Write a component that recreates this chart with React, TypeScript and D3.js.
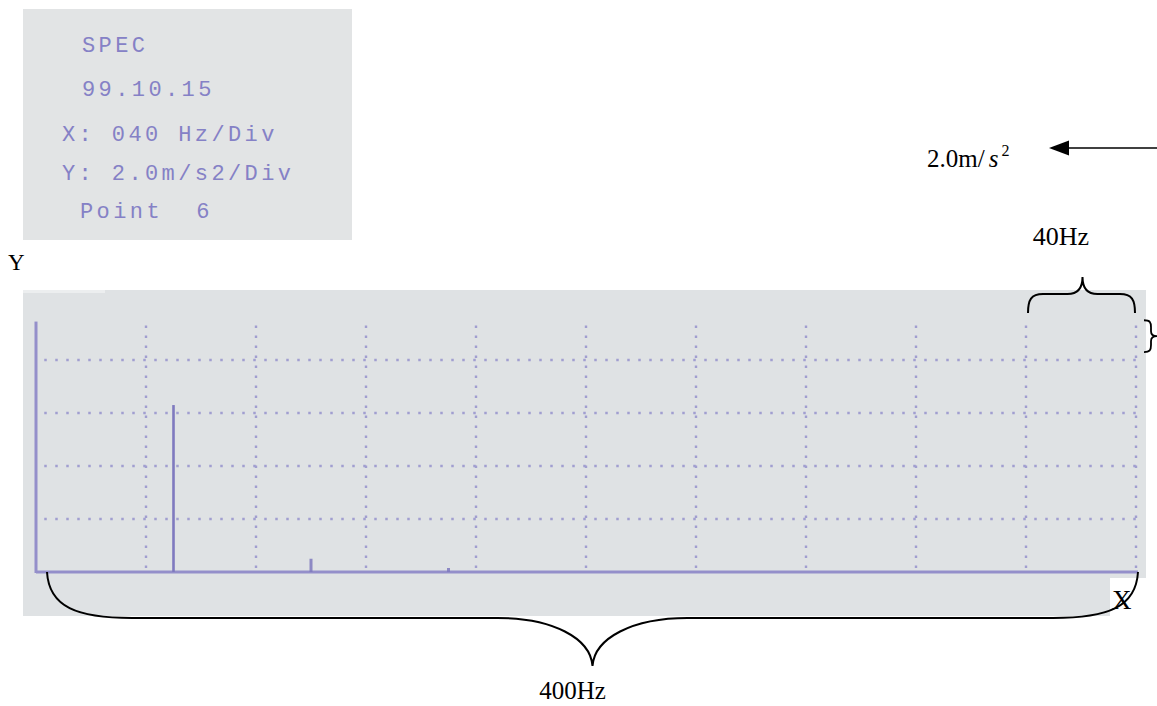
import React from "react";
import * as d3 from "d3";

// ---- data ----
const peakFreqs = [50, 100, 150]; // Hz
const peakAmps = [6.3, 0.5, 0.15]; // m/s^2
const xGridTicks = [40, 80, 120, 160, 200, 240, 280, 320, 360, 400];
const yGridTicks = [2, 4, 6, 8];
const infoLines = ["SPEC", "99.10.15", "X: 040 Hz/Div", "Y: 2.0m/s2/Div", "Point  6"];
const infoX = [82, 82, 62, 62, 80];

const W = 1157;
const H = 706;

export default function App() {
  const x = d3.scaleLinear().domain([0, 400]).range([36, 1136]);
  const y = d3.scaleLinear().domain([0, 10]).range([572, 307]);

  const grid = "#a19ed0";
  const axis = "#948fca";
  const spike = "#7f7abf";
  const serif = "'Liberation Serif', 'Times New Roman', serif";

  // 400Hz brace (opening up, tip down)
  const bx0 = x(4);
  const bx1 = x(400) + 2;
  const bxm = (bx0 + bx1) / 2;
  const by0 = y(0);
  const byb = 618;
  const btip = 666;
  const bigBrace = [
    `M${bx0},${by0}`,
    `C${bx0 + 2},${by0 + 35} ${bx0 + 30},${byb} ${bx0 + 85},${byb}`,
    `L${bxm - 95},${byb}`,
    `C${bxm - 40},${byb} ${bxm - 2},${byb + 20} ${bxm},${btip}`,
    `C${bxm + 2},${byb + 20} ${bxm + 40},${byb} ${bxm + 95},${byb}`,
    `L${bx1 - 85},${byb}`,
    `C${bx1 - 30},${byb} ${bx1 - 2},${by0 + 35} ${bx1},${by0}`,
  ].join(" ");

  // 40Hz brace (tip up)
  const sx0 = x(360) + 2;
  const sx1 = x(400) - 1;
  const sxm = (sx0 + sx1) / 2 + 1;
  const sy0 = 313;
  const syb = 294;
  const stip = 277;
  const smallBrace = [
    `M${sx0},${sy0}`,
    `C${sx0},${sy0 - 13} ${sx0 + 3},${syb} ${sx0 + 15},${syb}`,
    `L${sxm - 15},${syb}`,
    `C${sxm - 5},${syb} ${sxm},${syb - 5} ${sxm},${stip}`,
    `C${sxm},${syb - 5} ${sxm + 5},${syb} ${sxm + 15},${syb}`,
    `L${sx1 - 15},${syb}`,
    `C${sx1 - 3},${syb} ${sx1},${sy0 - 13} ${sx1},${sy0}`,
  ].join(" ");

  // vertical brace "}" on the right
  const vx = 1144;
  const vt = y(9.5);
  const vb = y(8.3);
  const vm = (vt + vb) / 2;
  const vBrace = [
    `M${vx},${vt}`,
    `C${vx + 6},${vt} ${vx + 7},${vt + 2} ${vx + 7},${vt + 7}`,
    `L${vx + 7},${vm - 5}`,
    `C${vx + 7},${vm - 2} ${vx + 9},${vm} ${vx + 13},${vm}`,
    `C${vx + 9},${vm} ${vx + 7},${vm + 2} ${vx + 7},${vm + 5}`,
    `L${vx + 7},${vb - 7}`,
    `C${vx + 7},${vb - 2} ${vx + 6},${vb} ${vx},${vb}`,
  ].join(" ");

  const infoBaselines = [52, 96, 141, 180, 218];

  return (
    <svg
      width={W}
      height={H}
      viewBox={`0 0 ${W} ${H}`}
      style={{ position: "absolute", left: 0, top: 0, background: "#fff" }}
    >
      {/* top-left info photo */}
      <rect x={23} y={9} width={329} height={231} fill="#e2e4e5" />
      {infoLines.map((t, i) => (
        <text
          key={t}
          x={infoX[i]}
          y={infoBaselines[i]}
          fontFamily="'Liberation Mono', 'DejaVu Sans Mono', monospace"
          fontSize={22}
          letterSpacing={3.4}
          fill="#8581c6"
          xmlSpace="preserve"
          style={{ whiteSpace: "pre" }}
        >
          {t}
        </text>
      ))}

      {/* Y label */}
      <text x={8} y={270} fontFamily={serif} fontSize={23} fill="#000">
        Y
      </text>

      {/* chart photo background */}
      <rect x={23} y={290} width={1123} height={326} fill="#dfe2e4" />
      <rect x={23} y={290} width={82} height={3} fill="#eceeef" />
      <rect x={1110} y={578} width={40} height={40} fill="#fff" />

      {/* grid */}
      {xGridTicks.map((t) => (
        <line
          key={"vx" + t}
          x1={x(t)}
          x2={x(t)}
          y1={y(9.3)}
          y2={y(0)}
          stroke={grid}
          strokeWidth={2.4}
          strokeDasharray="2.5 7.5"
        />
      ))}
      {yGridTicks.map((t) => (
        <line
          key={"hy" + t}
          x1={x(3)}
          x2={x(402)}
          y1={y(t)}
          y2={y(t)}
          stroke={grid}
          strokeWidth={2.4}
          strokeDasharray="2.5 8.5"
        />
      ))}

      {/* axes */}
      <line x1={x(0)} x2={x(0)} y1={y(9.45)} y2={y(0) + 1} stroke={axis} strokeWidth={3} />
      <line x1={x(0)} x2={x(400) + 2} y1={y(0)} y2={y(0)} stroke={axis} strokeWidth={3} />

      {/* spectral lines */}
      {peakFreqs.map((f, i) => (
        <line
          key={"p" + f}
          x1={x(f)}
          x2={x(f)}
          y1={y(0)}
          y2={y(peakAmps[i])}
          stroke={spike}
          strokeWidth={i === 0 ? 2.6 : 3}
          opacity={i === 0 ? 1 : 0.85}
        />
      ))}

      {/* annotations */}
      <text x={927} y={167} fontFamily={serif} fontSize={25} fill="#000">
        2.0m/
        <tspan dx={4} fontStyle="italic">s</tspan>
        <tspan dx={3} dy={-11} fontSize={16}>2</tspan>
      </text>
      <line x1={1066} x2={W} y1={148} y2={148} stroke="#000" strokeWidth={1.6} />
      <path d="M1049,148 L1069,140.5 L1069,155.5 Z" fill="#000" />

      <text x={1061} y={245} textAnchor="middle" fontFamily={serif} fontSize={26} fill="#000">
        40Hz
      </text>
      <path d={smallBrace} fill="none" stroke="#000" strokeWidth={2} />
      <path d={vBrace} fill="none" stroke="#000" strokeWidth={1.8} />

      <path d={bigBrace} fill="none" stroke="#000" strokeWidth={2} />
      <text x={bxm - 20} y={699} textAnchor="middle" fontFamily={serif} fontSize={25} fill="#000">
        400Hz
      </text>
      <text x={1112} y={609} fontFamily={serif} fontSize={27} fill="#000">
        X
      </text>
    </svg>
  );
}
